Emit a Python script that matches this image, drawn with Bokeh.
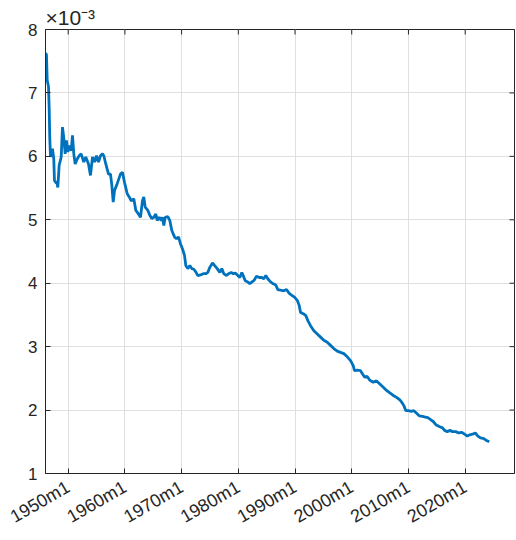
import numpy as np
from bokeh.plotting import figure
from bokeh.models import Range1d, FixedTicker
from bokeh.embed import file_html
from bokeh.resources import INLINE

# Series (values in units of 1e-3)
years = [1946.05, 1946.17, 1946.30, 1946.53, 1946.65, 1946.75, 1946.88, 1947.23, 1947.46, 1947.58,
         1947.81, 1948.06, 1948.17, 1948.41, 1948.77, 1948.99, 1949.22, 1949.47, 1949.70, 1949.93,
         1950.18, 1950.53, 1950.76, 1950.99, 1951.23, 1951.59, 1951.94, 1952.29, 1952.75, 1953.10,
         1953.58, 1953.93, 1954.29, 1954.64, 1954.99, 1955.34, 1955.70, 1956.05, 1956.28, 1956.63,
         1957.11, 1957.46, 1957.69, 1957.94, 1958.17, 1958.64, 1959.22, 1959.58, 1959.93, 1960.41,
         1960.76, 1961.11, 1961.57, 1961.92, 1962.40, 1962.75, 1963.10, 1963.33, 1963.58, 1964.04,
         1964.39, 1964.74, 1965.10, 1965.45, 1965.70, 1966.05, 1966.40, 1966.63, 1966.86, 1967.11,
         1967.57, 1967.92, 1968.27, 1968.75, 1969.10, 1969.45, 1969.81, 1970.16, 1970.51, 1970.74,
         1971.09, 1971.45, 1971.80, 1972.15, 1972.50, 1972.86, 1973.33, 1973.81, 1974.27, 1974.62,
         1974.97, 1975.45, 1975.80, 1976.28, 1976.74, 1977.09, 1977.44, 1977.92, 1978.27, 1978.75,
         1979.10, 1979.45, 1979.91, 1980.26, 1980.62, 1980.86, 1981.22, 1981.68, 1982.03, 1982.38,
         1982.73, 1983.21, 1983.69, 1984.14, 1984.50, 1984.85, 1985.20, 1985.68, 1986.16, 1986.61,
         1986.97, 1987.44, 1988.02, 1988.50, 1988.98, 1989.44, 1989.91, 1990.39, 1990.74, 1990.97,
         1991.45, 1991.90, 1992.26, 1992.73, 1993.32, 1993.92, 1994.50, 1995.08, 1995.68, 1996.26,
         1996.84, 1997.44, 1998.02, 1998.61, 1999.21, 1999.79, 2000.26, 2000.49, 2000.97, 2001.55,
         2001.90, 2002.26, 2002.73, 2003.19, 2003.79, 2004.37, 2004.96, 2005.56, 2006.14, 2006.72,
         2007.32, 2007.90, 2008.48, 2008.84, 2009.19, 2009.54, 2010.02, 2010.49, 2010.95, 2011.43,
         2011.90, 2012.49, 2012.96, 2013.42, 2013.90, 2014.37, 2014.83, 2015.43, 2016.01, 2016.37,
         2016.84, 2017.30, 2017.78, 2018.36, 2018.84, 2019.42, 2019.89, 2020.37, 2020.83, 2021.30,
         2021.78, 2022.24, 2022.71, 2023.30, 2023.77, 2024.25]
values = [7.63, 7.60, 7.20, 7.10, 6.75, 6.30, 5.99, 6.12, 5.96, 5.62,
          5.59, 5.57, 5.51, 5.86, 5.99, 6.46, 6.30, 6.04, 6.25, 6.07,
          6.17, 6.09, 6.33, 6.04, 5.88, 5.96, 6.01, 6.04, 5.91, 5.99,
          5.88, 5.70, 5.99, 5.91, 6.01, 5.91, 6.01, 6.04, 6.01, 5.88,
          5.72, 5.72, 5.55, 5.28, 5.46, 5.57, 5.72, 5.75, 5.59, 5.41,
          5.36, 5.30, 5.33, 5.15, 5.09, 5.04, 5.30, 5.36, 5.20, 5.15,
          5.07, 5.02, 5.04, 5.09, 4.99, 5.04, 4.99, 5.04, 4.91, 5.04,
          5.05, 4.99, 4.83, 4.73, 4.70, 4.73, 4.62, 4.54, 4.44, 4.28,
          4.23, 4.28, 4.23, 4.22, 4.18, 4.12, 4.13, 4.15, 4.15, 4.17,
          4.25, 4.32, 4.28, 4.23, 4.17, 4.23, 4.15, 4.12, 4.15, 4.17,
          4.15, 4.16, 4.12, 4.09, 4.17, 4.12, 4.04, 4.02, 3.99, 4.02,
          4.04, 4.11, 4.09, 4.09, 4.07, 4.12, 4.07, 4.02, 3.99, 3.97,
          3.90, 3.89, 3.88, 3.90, 3.84, 3.81, 3.78, 3.73, 3.65, 3.54,
          3.52, 3.49, 3.41, 3.33, 3.25, 3.20, 3.15, 3.10, 3.07, 3.02,
          2.97, 2.93, 2.91, 2.89, 2.84, 2.78, 2.70, 2.62, 2.63, 2.62,
          2.57, 2.52, 2.53, 2.47, 2.44, 2.46, 2.41, 2.36, 2.31, 2.27,
          2.23, 2.20, 2.16, 2.12, 2.07, 1.99, 1.99, 1.98, 1.99, 1.95,
          1.91, 1.90, 1.89, 1.88, 1.85, 1.82, 1.77, 1.74, 1.72, 1.68,
          1.66, 1.68, 1.66, 1.66, 1.64, 1.65, 1.62, 1.59, 1.61, 1.62,
          1.64, 1.59, 1.56, 1.55, 1.52, 1.50]

x_ticks = [1950, 1960, 1970, 1980, 1990, 2000, 2010, 2020]
x_tick_labels = ["1950m1", "1960m1", "1970m1", "1980m1", "1990m1", "2000m1", "2010m1", "2020m1"]
y_ticks = [1, 2, 3, 4, 5, 6, 7, 8]
x_lim = (1946.0, 2028.7)
y_lim = (1, 8)
exponent_text = "×10⁻³"

FONT = "Liberation Sans"
DARK = "#262626"
GRID = "#dfdfdf"

p = figure(width=516, height=538, output_backend="svg", toolbar_location=None,
           title=exponent_text,
           x_range=Range1d(*x_lim), y_range=Range1d(*y_lim),
           min_border_left=45, min_border_right=2, min_border_top=29, min_border_bottom=65,
           background_fill_color="white", border_fill_color="white")

# exponent shown as the (left aligned) title just above the top-left corner
p.title.align = "left"
p.title.offset = 0
p.title.standoff = 1
p.title.text_font = FONT
p.title.text_font_size = "21px"
p.title.text_font_style = "normal"
p.title.text_color = DARK

p.line(years, values, line_width=2.8, line_color="#0072BD")

# inward ticks on the top and right edges of the box (half of each dash is clipped)
p.scatter(x=x_ticks, y=[y_lim[1]] * len(x_ticks), marker="dash", size=10, angle=np.pi / 2,
          line_color=DARK, line_width=1)
p.scatter(x=[x_lim[1]] * len(y_ticks), y=y_ticks, marker="dash", size=10,
          line_color=DARK, line_width=1)

p.xaxis.ticker = FixedTicker(ticks=x_ticks)
p.xaxis.major_label_overrides = {t: l for t, l in zip(x_ticks, x_tick_labels)}
p.xaxis.major_label_orientation = np.pi / 6
p.yaxis.ticker = FixedTicker(ticks=y_ticks)

for ax in [p.xaxis[0], p.yaxis[0]]:
    ax.major_tick_in = 5
    ax.major_tick_out = 0
    ax.minor_tick_line_color = None
    ax.axis_line_color = DARK
    ax.major_tick_line_color = DARK
    ax.major_label_text_color = DARK
    ax.major_label_text_font = FONT
ax_x, ax_y = p.xaxis[0], p.yaxis[0]
ax_x.major_label_text_font_size = "18px"
ax_y.major_label_text_font_size = "17px"
ax_x.major_label_standoff = 12
ax_y.major_label_standoff = 8

p.xgrid.ticker = FixedTicker(ticks=x_ticks)
p.ygrid.ticker = FixedTicker(ticks=y_ticks)
p.grid.grid_line_color = GRID
p.grid.grid_line_width = 1
p.outline_line_color = DARK

open("out.html", "w").write(file_html(p, INLINE))
